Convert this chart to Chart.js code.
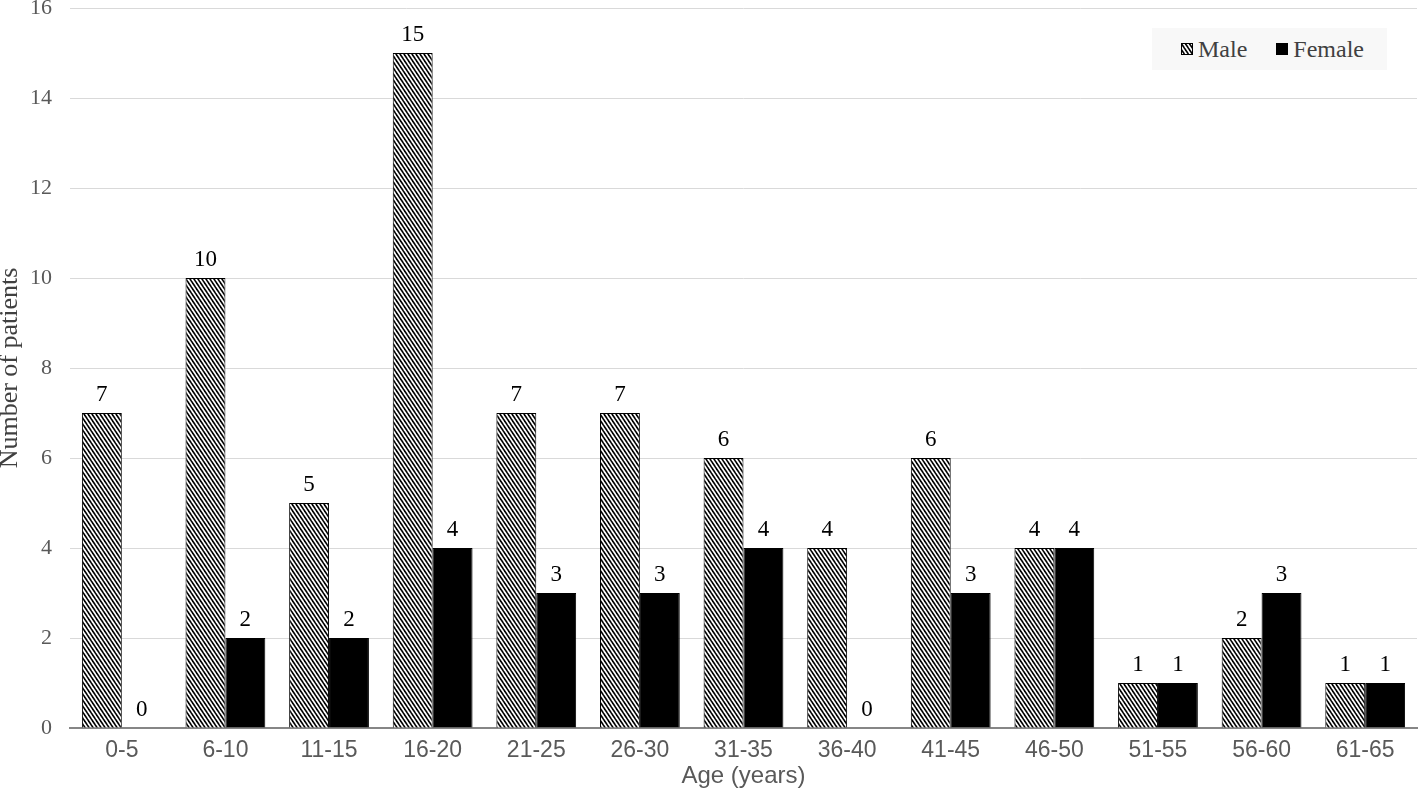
<!DOCTYPE html>
<html>
<head>
<meta charset="utf-8">
<script src="https://cdn.jsdelivr.net/npm/chart.js@4/dist/chart.umd.min.js"></script>
<style>
  html, body { margin: 0; padding: 0; background: #fff; }
  #wrap { position: relative; width: 1424px; height: 795px; }
  #legend {
    position: absolute; left: 1152px; top: 28px; width: 235px; height: 42px;
    background: #f8f8f8; display: flex; align-items: center; box-sizing: border-box;
    padding-left: 29px; font: 24px "Liberation Serif", "Times New Roman", serif; color: #404040;
  }
  #legend .item { display: flex; align-items: center; margin-right: 29px; }
  #legend canvas { width: 12px; height: 12px; margin-right: 5px; }
</style>
</head>
<body>
<div id="wrap">
  <canvas id="ageChart" width="1424" height="795"></canvas>
  <div id="legend"></div>
</div>
<script>
const ageGroups = ['0-5', '6-10', '11-15', '16-20', '21-25', '26-30', '31-35', '36-40', '41-45', '46-50', '51-55', '56-60', '61-65'];
const maleCounts = [7, 10, 5, 15, 7, 7, 6, 4, 6, 4, 1, 2, 1];
const femaleCounts = [0, 2, 2, 4, 3, 3, 4, 0, 3, 4, 1, 3, 1];
const yTicks = [0, 2, 4, 6, 8, 10, 12, 14, 16];

const serif = '"Liberation Serif", "Times New Roman", serif';
const sans = '"Liberation Sans", Arial, sans-serif';

// diagonal hatch like the excel "wide downward diagonal" fill
function makeHatch(g) {
    const c = document.createElement('canvas');
    c.width = 4; c.height = 6;
    const p = c.getContext('2d');
    p.fillStyle = '#fff';
    p.fillRect(0, 0, 4, 6);
    p.strokeStyle = '#000';
    p.lineWidth = 1.6;
    [-4, 0, 4].forEach(dx => {
        p.beginPath();
        p.moveTo(dx - 2, -3);
        p.lineTo(dx + 6, 9);
        p.stroke();
    });
    return g.createPattern(c, 'repeat');
}

const canvas = document.getElementById('ageChart');
const ctx = canvas.getContext('2d');
const hatch = makeHatch(ctx);

// numbers on top of the bars
const valueLabels = {
    id: 'valueLabels',
    afterDatasetsDraw(chart) {
        const c = chart.ctx;
        c.save();
        c.font = '23px ' + serif;
        c.fillStyle = '#000';
        c.textAlign = 'center';
        c.textBaseline = 'alphabetic';
        chart.data.datasets.forEach((ds, i) => {
            chart.getDatasetMeta(i).data.forEach((bar, j) => {
                c.fillText(String(ds.data[j]), bar.x, bar.y - 12);
            });
        });
        c.restore();
    }
};

const chart = new Chart(ctx, {
    type: 'bar',
    data: {
        labels: ageGroups,
        datasets: [
            { label: 'Male', data: maleCounts, backgroundColor: hatch, borderColor: '#000', borderWidth: 1 },
            { label: 'Female', data: femaleCounts, backgroundColor: '#000', borderColor: '#000', borderWidth: 1 }
        ]
    },
    options: {
        responsive: false,
        animation: false,
        layout: { padding: { top: 0, right: 7, bottom: 0, left: 0 } },
        datasets: { bar: { categoryPercentage: 0.77, barPercentage: 1 } },
        plugins: { legend: { display: false }, tooltip: { enabled: false } },
        scales: {
            x: {
                grid: { display: false, drawTicks: false },
                border: { display: true, color: '#868686', width: 2 },
                ticks: { font: { family: sans, size: 23 }, color: '#595959', padding: 9 },
                title: { display: true, text: 'Age (years)', font: { family: sans, size: 24 }, color: '#595959', padding: { top: 0, bottom: 4 } },
                afterFit(scale) { scale.height = 67; }
            },
            y: {
                min: 0,
                max: 16,
                afterBuildTicks(scale) { scale.ticks = yTicks.map(v => ({ value: v })); },
                grid: {
                    drawTicks: false,
                    color: c => (c.tick && c.tick.value === 0 ? 'rgba(0,0,0,0)' : '#d9d9d9'),
                    lineWidth: 1
                },
                border: { display: false },
                ticks: { font: { family: serif, size: 22 }, color: '#595959', padding: 18 },
                title: { display: true, text: 'Number of patients', font: { family: serif, size: 26, lineHeight: 0.75 }, color: '#404040', padding: 0 },
                afterFit(scale) { scale.width = 70; scale.paddingTop = 8; scale.paddingBottom = 0; }
            }
        }
    },
    plugins: [valueLabels]
});

// html legend built from the datasets
const legendEl = document.getElementById('legend');
chart.data.datasets.forEach(ds => {
    const item = document.createElement('div');
    item.className = 'item';
    const sw = document.createElement('canvas');
    sw.width = 12; sw.height = 12;
    const s = sw.getContext('2d');
    s.fillStyle = ds.label === 'Male' ? makeHatch(s) : ds.backgroundColor;
    s.fillRect(0, 0, 12, 12);
    s.strokeStyle = '#000';
    s.strokeRect(0.5, 0.5, 11, 11);
    item.appendChild(sw);
    const txt = document.createElement('span');
    txt.textContent = ds.label;
    item.appendChild(txt);
    legendEl.appendChild(item);
});
</script>
</body>
</html>
